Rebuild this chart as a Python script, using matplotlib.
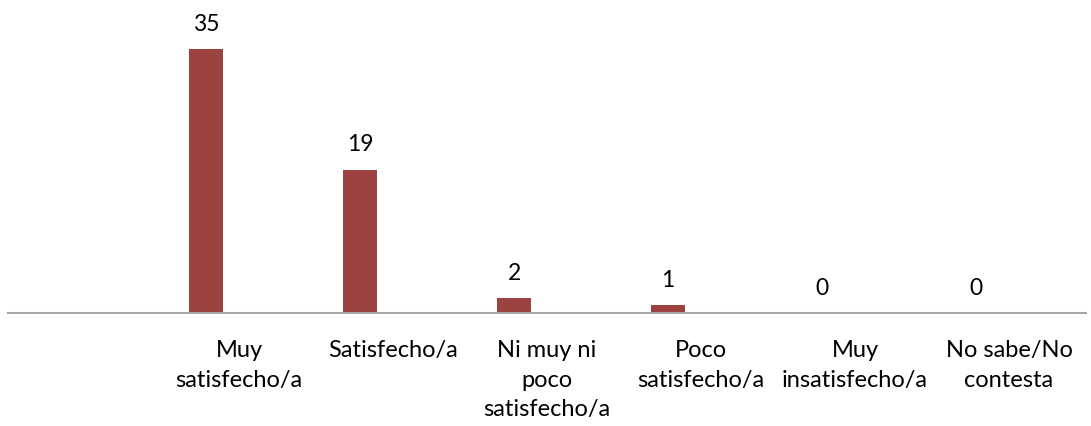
import matplotlib
matplotlib.use("Agg")
import matplotlib.pyplot as plt

# datos del grafico
categorias = ["", "Muy\nsatisfecho/a", "Satisfecho/a", "Ni muy ni\npoco\nsatisfecho/a",
              "Poco\nsatisfecho/a", "Muy\ninsatisfecho/a", "No sabe/No\ncontesta"]
valores = [None, 35, 19, 2, 1, 0, 0]

plt.rcParams['font.family'] = ['Lato', 'DejaVu Sans']

fig = plt.figure(figsize=(10.91, 4.26), dpi=100)
ax = fig.add_axes([8 / 1091, 1 - 313 / 426, 1078 / 1091, 313 / 426])

pos = [i for i, v in enumerate(valores) if v is not None]
vals = [v for v in valores if v is not None]
off = -0.214
ax.bar([p + off for p in pos], vals, width=0.22, color='#9C4240', zorder=2)

# etiquetas de datos
for p, v in zip(pos, vals):
    ax.text(p + off, v + 1.9, str(v), ha='center', va='bottom', fontsize=16.5, color='black')

# etiquetas de categorias
for i, c in enumerate(categorias):
    ax.text(i, -3.6, c, ha='center', va='top', fontsize=17, linespacing=1.5, color='black')

ax.set_xlim(-0.5, 6.5)
ax.set_ylim(0, 41.5)
ax.set_xticks([])
ax.set_yticks([])
for s in ['top', 'right', 'left']:
    ax.spines[s].set_visible(False)
ax.spines['bottom'].set_color('#A6A6A6')
ax.spines['bottom'].set_linewidth(1.5)

fig.savefig('out.png', dpi=100)
